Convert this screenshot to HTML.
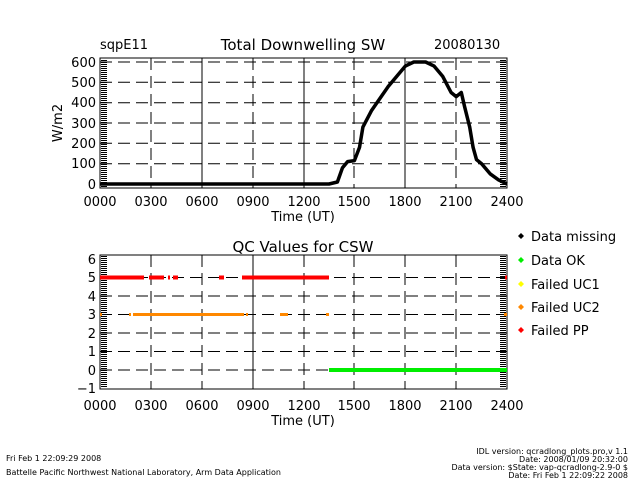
<!DOCTYPE html>
<html><head><meta charset="utf-8"><style>
html,body{margin:0;padding:0;background:#fff;width:640px;height:480px;overflow:hidden}
svg text{font-family:"DejaVu Sans","Liberation Sans",sans-serif}
</style></head><body>
<svg width="640" height="480" xmlns="http://www.w3.org/2000/svg">
<defs>
<pattern id="tk" width="8" height="2" patternUnits="userSpaceOnUse"><rect width="8" height="1" fill="#000"/></pattern>
</defs>
<g stroke="#000" stroke-width="1" fill="none">
<g stroke-dasharray="12,6">
<line x1="100" y1="62" x2="507" y2="62"/><line x1="100" y1="82.3" x2="507" y2="82.3"/><line x1="100" y1="102.7" x2="507" y2="102.7"/>
<line x1="100" y1="123" x2="507" y2="123"/><line x1="100" y1="143.3" x2="507" y2="143.3"/><line x1="100" y1="163.7" x2="507" y2="163.7"/>
<line x1="151" y1="58" x2="151" y2="188"/><line x1="253" y1="58" x2="253" y2="188"/><line x1="354" y1="58" x2="354" y2="188"/><line x1="456" y1="58" x2="456" y2="188"/>
</g>
<line x1="202" y1="58" x2="202" y2="188"/><line x1="304" y1="58" x2="304" y2="188"/><line x1="405" y1="58" x2="405" y2="188"/>
<rect x="100" y="58" width="407" height="130"/>
</g>
<rect x="101" y="59" width="6" height="128" fill="url(#tk)"/>
<rect x="500" y="59" width="6" height="128" fill="url(#tk)"/>
<polyline fill="none" stroke="#000" stroke-width="3.5" stroke-linejoin="round" points="100,184 329,184 337.4,182 342.5,167.7 347.6,161.6 354.4,160.6 359.5,147.4 362.9,127.1 371.4,110.8 379.8,98.6 388.3,86.4 396.8,76.2 405.3,66.1 413.8,62 425.6,62 434.1,66.1 442.6,76.2 451.1,92.5 456.2,96.6 461.3,92.5 464.6,106.7 469.7,127.1 473.1,147.4 476.5,159.6 481.6,163.7 490.1,173.8 498.6,179.9 507,184"/>
<g font-size="13" text-anchor="end">
<text x="96" y="67">600</text><text x="96" y="87">500</text><text x="96" y="107">400</text><text x="96" y="128">300</text><text x="96" y="148">200</text><text x="96" y="168">100</text><text x="96" y="189">0</text>
</g>
<text transform="translate(62,123) rotate(-90)" font-size="13" text-anchor="middle">W/m2</text>
<g font-size="13" text-anchor="middle">
<text x="100" y="206">0000</text><text x="151" y="206">0300</text><text x="202" y="206">0600</text><text x="253" y="206">0900</text><text x="304" y="206">1200</text><text x="354" y="206">1500</text><text x="405" y="206">1800</text><text x="456" y="206">2100</text><text x="507" y="206">2400</text>
</g>
<text x="303" y="221" font-size="13" text-anchor="middle">Time (UT)</text>
<text x="100" y="49" font-size="13">sqpE11</text>
<text x="303" y="50" font-size="15" text-anchor="middle">Total Downwelling SW</text>
<text x="434" y="49" font-size="13">20080130</text>
<g stroke="#000" stroke-width="1" fill="none">
<g stroke-dasharray="12,6">
<line x1="100" y1="277.5" x2="507" y2="277.5"/><line x1="100" y1="296" x2="507" y2="296"/><line x1="100" y1="314.5" x2="507" y2="314.5"/><line x1="100" y1="333" x2="507" y2="333"/><line x1="100" y1="351.5" x2="507" y2="351.5"/><line x1="100" y1="370" x2="507" y2="370"/>
<line x1="151" y1="255" x2="151" y2="389"/><line x1="202" y1="255" x2="202" y2="389"/><line x1="304" y1="255" x2="304" y2="389"/><line x1="354" y1="255" x2="354" y2="389"/><line x1="405" y1="255" x2="405" y2="389"/><line x1="456" y1="255" x2="456" y2="389"/>
</g>
<line x1="253" y1="255" x2="253" y2="389"/>
<rect x="100" y="255" width="407" height="134"/>
</g>
<rect x="101" y="256" width="6" height="132" fill="url(#tk)"/>
<rect x="500" y="256" width="6" height="132" fill="url(#tk)"/>
<g stroke="#f00" stroke-width="4">
<line x1="100" y1="277.5" x2="144" y2="277.5"/><line x1="149" y1="277.5" x2="164" y2="277.5"/><line x1="168" y1="277.5" x2="170" y2="277.5"/><line x1="173" y1="277.5" x2="178" y2="277.5"/><line x1="219" y1="277.5" x2="224" y2="277.5"/><line x1="242" y1="277.5" x2="329" y2="277.5"/><line x1="505" y1="277.5" x2="507" y2="277.5"/>
</g>
<g stroke="#f80" stroke-width="3">
<line x1="100" y1="314.5" x2="102" y2="314.5"/><line x1="129" y1="314.5" x2="131" y2="314.5"/><line x1="133" y1="314.5" x2="244" y2="314.5"/><line x1="246" y1="314.5" x2="248" y2="314.5"/><line x1="280" y1="314.5" x2="288" y2="314.5"/><line x1="326" y1="314.5" x2="329" y2="314.5"/><line x1="504" y1="314.5" x2="507" y2="314.5"/>
</g>
<line x1="329" y1="370" x2="507" y2="370" stroke="#0e0" stroke-width="4"/>
<g font-size="13" text-anchor="end">
<text x="96" y="264">6</text><text x="96" y="282">5</text><text x="96" y="301">4</text><text x="96" y="319">3</text><text x="96" y="338">2</text><text x="96" y="356">1</text><text x="96" y="375">0</text><text x="96" y="393">−1</text>
</g>
<g font-size="13" text-anchor="middle">
<text x="100" y="410">0000</text><text x="151" y="410">0300</text><text x="202" y="410">0600</text><text x="253" y="410">0900</text><text x="304" y="410">1200</text><text x="354" y="410">1500</text><text x="405" y="410">1800</text><text x="456" y="410">2100</text><text x="507" y="410">2400</text>
</g>
<text x="303" y="425" font-size="13" text-anchor="middle">Time (UT)</text>
<text x="303" y="252" font-size="15" text-anchor="middle">QC Values for CSW</text>
<g font-size="13">
<text x="531" y="241">Data missing</text><text x="531" y="265">Data OK</text><text x="531" y="289">Failed UC1</text><text x="531" y="312">Failed UC2</text><text x="531" y="335">Failed PP</text>
</g>
<g>
<path d="M521,233 l3,3 -3,3 -3,-3z" fill="#000"/><path d="M521,257 l3,3 -3,3 -3,-3z" fill="#0e0"/><path d="M521,281 l3,3 -3,3 -3,-3z" fill="#ff0"/><path d="M521,304 l3,3 -3,3 -3,-3z" fill="#f80"/><path d="M521,327 l3,3 -3,3 -3,-3z" fill="#f00"/>
</g>
<g font-size="8">
<text x="6" y="461">Fri Feb  1 22:09:29 2008</text>
<text x="6" y="475">Battelle Pacific Northwest National Laboratory, Arm Data Application</text>
</g>
<g font-size="8" text-anchor="end">
<text x="628" y="454">IDL version: qcradlong_plots.pro,v 1.1</text>
<text x="628" y="462">Date: 2008/01/09 20:32:00</text>
<text x="628" y="470">Data version: $State: vap-qcradlong-2.9-0 $</text>
<text x="628" y="478">Date: Fri Feb  1 22:09:22 2008</text>
</g>
</svg>
</body></html>
